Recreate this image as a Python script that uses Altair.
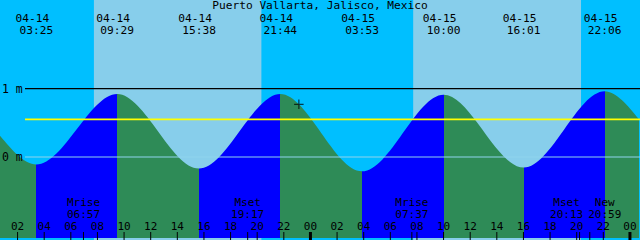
import altair as alt
import pandas as pd

# ---- data (hours counted from 04-14 00:00) ----
t_start = 0.68
t_end = 48.68

curve_hours = [0.68, 3 + 25/60, 9 + 29/60, 15 + 38/60, 21 + 44/60,
               27 + 53/60, 34.0, 40 + 1/60, 46 + 6/60, 48.68]
curve_heights = [0.31, -0.11, 0.92, -0.17, 0.92, -0.21, 0.91, -0.155, 0.96, 0.55]

extreme_hours = curve_hours[1:-1]
extreme_dates = ["04-14", "04-14", "04-14", "04-14", "04-15", "04-15", "04-15", "04-15"]
extreme_clock = ["03:25", "09:29", "15:38", "21:44", "03:53", "10:00", "16:01", "22:06"]

sun_edges = [0.68, 7 + 44/60, 20 + 20/60, 31 + 43/60, 44 + 20/60, 48.68]
sun_kind = ["night", "day", "night", "day", "night"]

tick_hours = list(range(2, 49, 2))
tick_labels = ["%02d" % (h % 24) for h in tick_hours]

moon_hours = [6 + 57/60, 19 + 17/60, 31 + 37/60, 44 + 13/60, 44 + 59/60]
moon_names = ["Mrise", "Mset", "Mrise", "Mset", "New"]
moon_clock = ["06:57", "19:17", "07:37", "20:13", "20:59"]

level_values = [1.0, 0.55, 0.0]   # 1 m, mean level, datum
level_names = ["1 m", "mean", "0 m"]

now_hour = 23.13
now_height = 0.77

title_text = "Puerto Vallarta, Jalisco, Mexico"

# ---- layout / style ----
label_shift = [0, 0, 0, -13, 15]
level_colors = ["black", "#FFFF00", "#90D4EE"]
level_widths = [1.2, 1.6, 1.2]
y_lo, y_hi = -1.184, 2.294
FONT = "DejaVu Sans Mono"
FS = 11.5
FS_TOP = 11.2
FS_TITLE = 11.2
FS_BOTTOM = 11
NIGHT, DAY = "#00BFFF", "#87CEEB"
FLOOD, EBB = "#0000FF", "#2E8B57"

xs = alt.Scale(domain=[t_start, t_end], nice=False, zero=False)
ys = alt.Scale(domain=[y_lo, y_hi], nice=False, zero=False)

# sky bands
sky = pd.DataFrame({"start": sun_edges[:-1], "end": sun_edges[1:], "kind": sun_kind})
sky_layer = alt.Chart(sky).mark_rect().encode(
    x=alt.X("start:Q", scale=xs, axis=None),
    x2="end:Q",
    y=alt.value(0),
    y2=alt.value(240),
    color=alt.Color("kind:N", scale=alt.Scale(domain=["night", "day"], range=[NIGHT, DAY]), legend=None),
)

# tide curve, coloured by rising / falling via gradient stops
span = t_end - t_start
stops = []
for i in range(len(curve_hours) - 1):
    c = FLOOD if curve_heights[i + 1] > curve_heights[i] else EBB
    a = (curve_hours[i] - t_start) / span
    b = (curve_hours[i + 1] - t_start) / span
    stops.append(alt.GradientStop(offset=a, color=c))
    stops.append(alt.GradientStop(offset=b, color=c))
grad = alt.Gradient(gradient="linear", stops=stops, x1=0, x2=1, y1=0, y2=0)

tide = pd.DataFrame({"h": curve_hours, "v": curve_heights, "base": [y_lo] * len(curve_hours)})
tide_layer = alt.Chart(tide).mark_area(color=grad, interpolate="monotone").encode(
    x=alt.X("h:Q", scale=xs, axis=None),
    y=alt.Y("v:Q", scale=ys, axis=None),
    y2="base:Q",
)

# reference lines
levels = pd.DataFrame({"v": level_values, "name": level_names, "col": level_colors, "w": level_widths})
level_rules = alt.Chart(levels).mark_rule().encode(
    x=alt.value(25), x2=alt.value(640), y=alt.Y("v:Q", scale=ys),
    color=alt.Color("col:N", scale=None),
    strokeWidth=alt.StrokeWidth("w:Q", scale=None))

m_labels = levels[levels["name"] != "mean"]
m_text = alt.Chart(m_labels).mark_text(font=FONT, fontSize=FS, align="left", baseline="middle", dy=1.5, color="black").encode(
    x=alt.value(2), y=alt.Y("v:Q", scale=ys), text="name:N")

# current-time marker
now = pd.DataFrame({"h": [now_hour], "v": [now_height]})
now_layer = alt.Chart(now).mark_point(shape="M-1,0H1M0,-1V1", size=90, color="black", strokeWidth=1.2, filled=False).encode(
    x=alt.X("h:Q", scale=xs), y=alt.Y("v:Q", scale=ys))

# extremes labels at top
ext = pd.DataFrame({"h": extreme_hours, "d": extreme_dates, "c": extreme_clock})
date_text = alt.Chart(ext).mark_text(font=FONT, fontSize=FS_TOP, baseline="alphabetic", dx=-4, color="black").encode(
    x=alt.X("h:Q", scale=xs), y=alt.value(21.5), text="d:N")
clock_text = alt.Chart(ext).mark_text(font=FONT, fontSize=FS_TOP, baseline="alphabetic", color="black").encode(
    x=alt.X("h:Q", scale=xs), y=alt.value(34), text="c:N")

title_df = pd.DataFrame({"t": [title_text]})
title_layer = alt.Chart(title_df).mark_text(font=FONT, fontSize=FS_TITLE, baseline="alphabetic", color="black").encode(
    x=alt.value(320), y=alt.value(9), text="t:N")

# hour ticks and labels
ticks = pd.DataFrame({"h": tick_hours, "lab": tick_labels,
                      "w": [3 if h % 24 == 0 else 1 for h in tick_hours]})
tick_rules = alt.Chart(ticks).mark_rule(color="black").encode(
    x=alt.X("h:Q", scale=xs), y=alt.value(232), y2=alt.value(240),
    strokeWidth=alt.StrokeWidth("w:Q", scale=None))
tick_text = alt.Chart(ticks).mark_text(font=FONT, fontSize=FS_BOTTOM, baseline="alphabetic", color="black").encode(
    x=alt.X("h:Q", scale=xs), y=alt.value(230), text="lab:N")

# moon events
moon = pd.DataFrame({"h": moon_hours, "n": moon_names, "c": moon_clock, "s": label_shift})
moon_rules = alt.Chart(moon).mark_rule(color="black", strokeWidth=1).encode(
    x=alt.X("h:Q", scale=xs), y=alt.value(232), y2=alt.value(240))
moon_base = alt.Chart(moon).transform_calculate(
    hx="datum.h + datum.s / %f" % (640.0 / span))
moon_name_text = moon_base.mark_text(font=FONT, fontSize=FS_BOTTOM, baseline="alphabetic", color="black").encode(
    x=alt.X("hx:Q", scale=xs), y=alt.value(206), text="n:N")
moon_clock_text = moon_base.mark_text(font=FONT, fontSize=FS_BOTTOM, baseline="alphabetic", color="black").encode(
    x=alt.X("hx:Q", scale=xs), y=alt.value(218), text="c:N")

chart = alt.layer(
    sky_layer, tide_layer, level_rules, m_text, now_layer,
    date_text, clock_text, title_layer, tick_rules, tick_text,
    moon_rules, moon_name_text, moon_clock_text,
).properties(
    width=640, height=240,
    autosize=alt.AutoSizeParams(type="fit", contains="padding"),
    padding=0,
    background=NIGHT,
).configure_view(stroke=None)

chart.save("out.html", embed_options={"renderer": "svg", "actions": False})
